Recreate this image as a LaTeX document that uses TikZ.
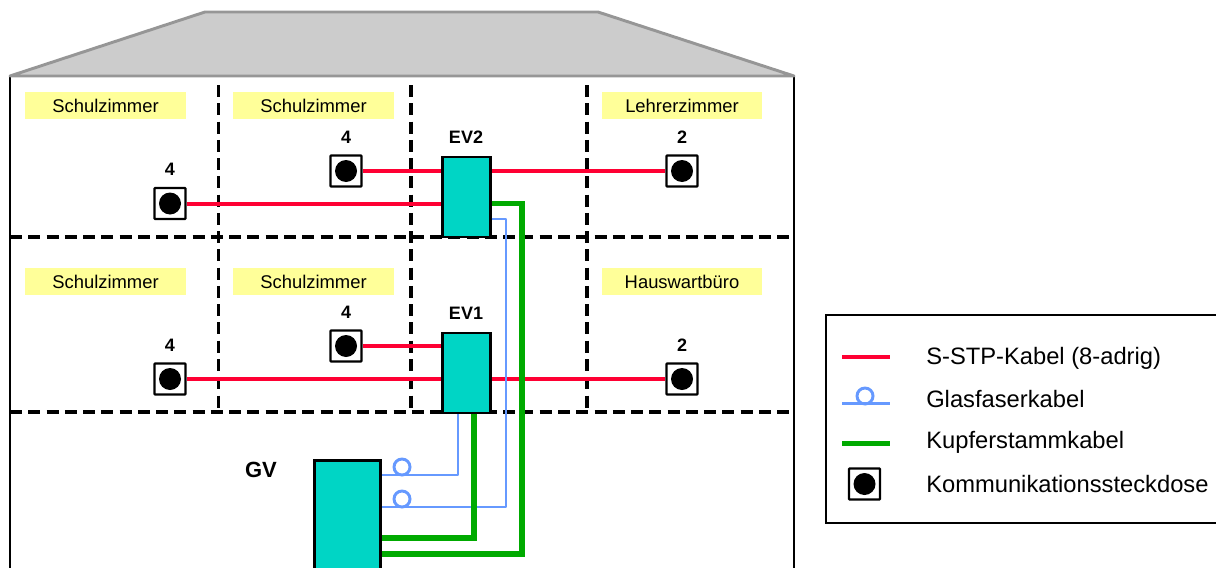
\documentclass[tikz,border=0pt]{standalone}
\usepackage{fontspec}
\setmainfont{Liberation Sans}
\definecolor{roofgray}{HTML}{CCCCCC}
\definecolor{roofline}{HTML}{969696}
\definecolor{boxcyan}{HTML}{00D5C5}
\definecolor{roomyellow}{HTML}{FFFF99}
\definecolor{fiberblue}{HTML}{6699FF}
\definecolor{stpred}{HTML}{FF0033}
\definecolor{copper}{HTML}{00AA00}
\tikzset{
	dose/.style={draw,line width=1.8pt,rounded corners=.5pt,fill=white,minimum size=23.2pt,inner sep=0pt},
	verteiler/.style={draw,line width=2pt,fill=boxcyan,inner sep=0pt,anchor=north west},
	room/.style={fill=roomyellow,minimum width=120.5pt,minimum height=20pt,inner sep=0pt,font=\fontsize{13.8}{14}\selectfont},
	amount/.style={font=\bfseries\fontsize{13.5}{14}\selectfont},
	legendtext/.style={anchor=west,inner sep=0pt,font=\fontsize{17.8}{18}\selectfont},
	loopring/.style={draw=fiberblue,line width=2.2pt,circle,minimum size=12pt,inner sep=0pt},
	stp/.style={stpred,line width=3pt},
	fiber/.style={fiberblue,line width=2.2pt},
	stamm/.style={copper,line width=4.2pt},
	wall/.style={black,line width=1.6pt},
	partition/.style={black,line width=2.9pt,dash pattern=on 9pt off 4.7pt}
}
\begin{document}
\begin{tikzpicture}[x=.75pt,y=-.75pt]
	\useasboundingbox (0,0) rectangle (1216,567);
	\clip (0,0) rectangle (1216,567); % Cuts off the bottom and the legend
	% building
	\draw [wall] (10,76) -- (10,580);
	\draw [wall] (794,76) -- (794,580);
	\draw [roofline,fill=roofgray,line width=2.2pt,line join=round] (10,76) -- (205,12) -- (598,12) -- (794,76) -- cycle;
	\foreach \y in {237,412}{%
		\draw [partition] (10,\y) -- (794,\y);
	}
	\foreach \x in {218.5,411,587}{%
		\draw [partition] (\x,85) -- (\x,412);
	}
	% room labels
	\foreach \x/\y/\name/\txt in {105.5/105.5/roomA/Schulzimmer,313.5/105.5/roomB/Schulzimmer,682/105.5/roomC/Lehrerzimmer,%
		105.5/281.5/roomD/Schulzimmer,313.5/281.5/roomE/Schulzimmer,682/281.5/roomF/Hauswartbüro}{%
		\node [room] (\name) at (\x,\y) {\txt};
	}
	% sockets
	\foreach \x/\y/\name/\num in {170/203.5/doseA/4,346/171/doseB/4,682/171/doseC/2,%
		170/379/doseD/4,346/346/doseE/4,682/379/doseF/2}{%
		\node [dose] (\name) at (\x,\y) {};
		\node [circle,fill,minimum size=16.5pt,inner sep=0pt] (\name dot) at (\x,\y) {};
		\node [amount] (\name num) at (\x,\y-34) {\num};
	}
	% distributors
	\node [verteiler,minimum width=36pt,minimum height=60pt] (EVtwo) at (441,155.5) {};
	\node [verteiler,minimum width=36pt,minimum height=60pt] (EVone) at (441,331.5) {};
	\node [verteiler,minimum width=49.5pt,minimum height=112pt] (GV) at (313,459) {};
	\node [font=\bfseries\fontsize{13.5}{14}\selectfont] (EVtwolabel) at (466,137) {EV2};
	\node [font=\bfseries\fontsize{13.5}{14}\selectfont] (EVonelabel) at (466,313) {EV1};
	\node [font=\bfseries\fontsize{16.5}{17}\selectfont] (GVlabel) at (261,470) {GV};
	% S-STP
	\draw [stp] (doseA.east) -- (doseA.east -| EVtwo.west);
	\draw [stp] (doseB.east) -- (doseB.east -| EVtwo.west);
	\draw [stp] (doseC.west) -- (doseC.west -| EVtwo.east);
	\draw [stp] (doseD.east) -- (doseD.east -| EVone.west);
	\draw [stp] (doseE.east) -- (doseE.east -| EVone.west);
	\draw [stp] (doseF.west) -- (doseF.west -| EVone.east);
	% copper and fibre
	\coordinate (GreenTwo) at (522,203.5);
	\coordinate (GreenOne) at (474,538);
	\coordinate (BlueTwo) at (506,219);
	\coordinate (BlueOne) at (458,475);
	\draw [fiber,line join=round] (EVone.south -| BlueOne) -- (BlueOne) -- (BlueOne -| GV.east);
	\draw [fiber,line join=round] (EVtwo.east |- BlueTwo) -- (BlueTwo) -- (506,507) -- (GV.east |- 0,507);
	\draw [stamm,line join=miter] (EVone.south -| GreenOne) -- (GreenOne) -- (GreenOne -| GV.east);
	\draw [stamm,line join=miter] (EVtwo.east |- GreenTwo) -- (GreenTwo) -- (522,554) -- (GV.east |- 0,554);
	\node [loopring] (loopA) at (402,467) {};
	\node [loopring] (loopB) at (402,499) {};
	% legend
	\draw [line width=.9pt] (826,315) rectangle (1230,523);
	\coordinate (KeyRed) at (842,356.5);
	\coordinate (KeyBlue) at (842,403.5);
	\coordinate (KeyGreen) at (842,443.5);
	\draw [stp] (KeyRed) -- ++(48,0);
	\draw [fiber] (KeyBlue) -- ++(48,0);
	\node [loopring] (loopKey) at (865,396) {};
	\draw [stamm] (KeyGreen) -- ++(48,0);
	\node [dose] (doseKey) at (864.5,484) {};
	\node [circle,fill,minimum size=16.5pt,inner sep=0pt] (doseKeydot) at (864.5,484) {};
	\node [legendtext] (textA) at (926,358) {S-STP-Kabel (8-adrig)};
	\node [legendtext] (textB) at (926,399) {Glasfaserkabel};
	\node [legendtext] (textC) at (926,442) {Kupferstammkabel};
	\node [legendtext] (textD) at (926,484) {Kommunikationssteckdose};
\end{tikzpicture}
\end{document}
